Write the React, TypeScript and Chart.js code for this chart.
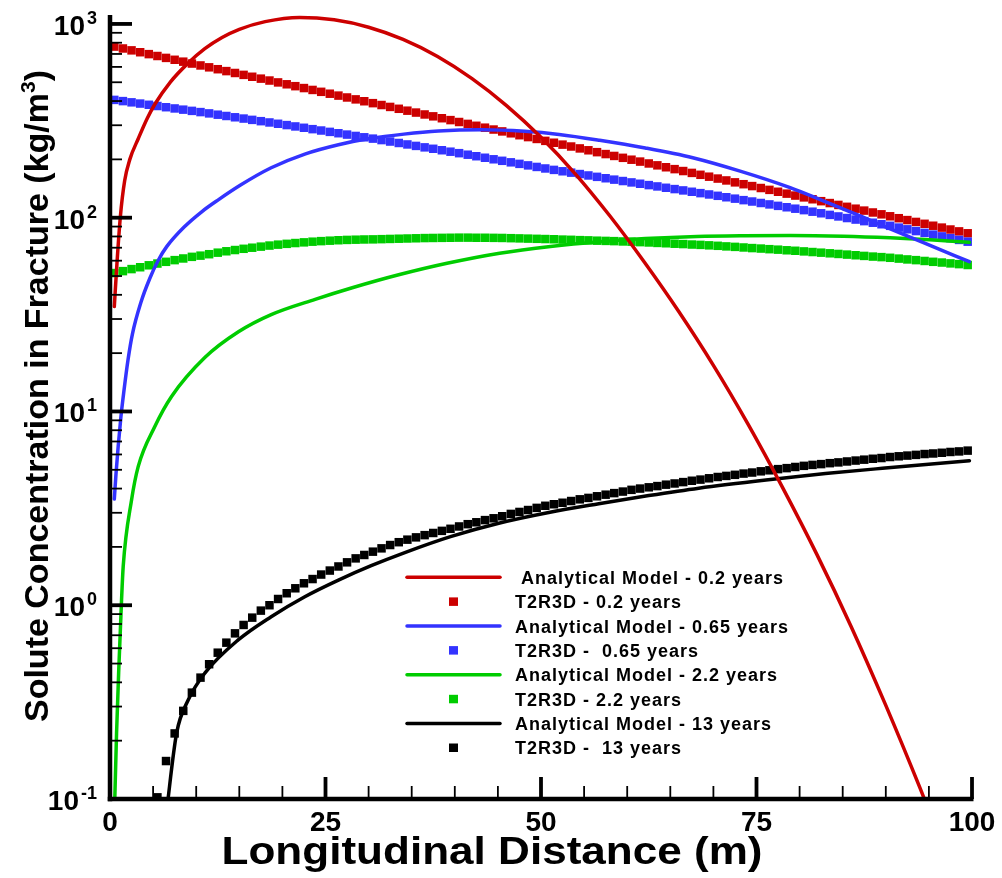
import React, { useEffect, useRef } from 'react';
import { Chart, registerables } from 'chart.js';

Chart.register(...registerables);

const RED = '#cc0000';
const BLUE = '#3333ff';
const GREEN = '#00cc00';
const BLACK = '#000000';
const FONT = '"Liberation Sans", Arial, Helvetica, sans-serif';

// Centres of the 1 m T2R3D grid blocks along the fracture (m)
const blockX: number[] = Array.from({ length: 100 }, (_, k) => k + 0.5);

// T2R3D results (kg/m3), one value per grid block
const t2r3d02: number[] = [
  764, 747, 730.5, 714.4, 698.5, 683.1, 667.9, 653.1, 638.7, 624.5,
  610.6, 597.1, 583.9, 570.9, 558.3, 545.9, 533.8, 522.0, 510.4, 499.1,
  488.1, 477.3, 466.7, 456.4, 446.3, 436.4, 426.7, 417.3, 408.0, 399.0,
  390.1, 381.5, 373.0, 364.8, 356.7, 348.8, 341.0, 333.5, 326.1, 318.9,
  311.8, 304.9, 298.1, 291.5, 285.1, 278.8, 272.6, 266.5, 260.6, 254.9,
  249.2, 243.7, 238.3, 233.0, 227.8, 222.8, 217.9, 213.0, 208.3, 203.7,
  199.2, 194.8, 190.5, 186.3, 182.1, 178.1, 174.1, 170.3, 166.5, 162.8,
  159.2, 155.7, 152.2, 148.9, 145.6, 142.3, 139.2, 136.1, 133.1, 130.1,
  127.3, 124.5, 121.7, 119.0, 116.4, 113.8, 111.3, 108.8, 106.4, 104.1,
  101.7, 99.4, 97.2, 95.1, 93.0, 90.9, 88.9, 86.9, 85.0, 83.1,
];

const t2r3d065: number[] = [
  405.5, 399.7, 393.9, 388.2, 382.6, 377.1, 371.7, 366.3, 361.1, 355.9,
  350.8, 345.4, 340.1, 334.9, 329.8, 324.8, 319.8, 314.9, 310.1, 305.3,
  300.6, 295.8, 291.1, 286.4, 281.8, 277.3, 272.9, 268.5, 264.2, 260.0,
  255.9, 251.5, 247.2, 243.0, 238.8, 234.7, 230.7, 226.8, 222.9, 219.1,
  215.3, 211.4, 207.6, 203.9, 200.2, 196.6, 193.1, 189.6, 186.2, 182.8,
  179.5, 176.5, 173.6, 170.8, 168.0, 165.2, 162.5, 159.8, 157.2, 154.6,
  152.1, 149.7, 147.3, 145.0, 142.7, 140.5, 138.3, 136.1, 133.9, 131.8,
  129.7, 127.5, 125.4, 123.2, 121.2, 119.1, 117.1, 115.1, 113.2, 111.3,
  109.4, 107.4, 105.4, 103.4, 101.5, 99.6, 97.8, 96.0, 94.2, 92.5,
  90.8, 88.9, 87.1, 85.3, 83.5, 81.8, 80.1, 78.4, 76.8, 75.2,
];

const t2r3d22: number[] = [
  51.8, 53.0, 54.3, 55.5, 56.8, 58.0, 59.2, 60.4, 61.6, 62.8,
  63.7, 64.8, 66.0, 67.1, 68.1, 69.1, 70.0, 70.9, 71.8, 72.6,
  73.3, 74.0, 74.6, 75.2, 75.7, 76.1, 76.5, 76.8, 77.0, 77.2,
  77.3, 77.5, 77.7, 77.9, 78.1, 78.3, 78.5, 78.6, 78.7, 78.8,
  78.9, 78.9, 78.8, 78.8, 78.7, 78.6, 78.4, 78.2, 78.0, 77.8,
  77.6, 77.4, 77.1, 76.9, 76.6, 76.4, 76.1, 75.9, 75.7, 75.4,
  75.2, 74.8, 74.5, 74.1, 73.8, 73.4, 73.1, 72.7, 72.4, 72.0,
  71.6, 71.1, 70.7, 70.2, 69.7, 69.3, 68.8, 68.4, 67.9, 67.5,
  67.0, 66.5, 66.0, 65.5, 65.0, 64.5, 64.0, 63.5, 63.0, 62.6,
  62.1, 61.5, 60.9, 60.4, 59.8, 59.2, 58.7, 58.1, 57.6, 57.0,
];

const t2r3d13: (number | null)[] = [
  null, null, null, null, null, 0.102, 0.157, 0.218, 0.285, 0.354,
  0.423, 0.496, 0.569, 0.641, 0.716, 0.791, 0.863, 0.938, 1.0, 1.077,
  1.153, 1.223, 1.298, 1.365, 1.44, 1.51, 1.585, 1.665, 1.745, 1.817,
  1.89, 1.966, 2.045, 2.115, 2.18, 2.24, 2.3, 2.36, 2.42, 2.48,
  2.55, 2.62, 2.68, 2.75, 2.81, 2.88, 2.96, 3.03, 3.1, 3.18,
  3.26, 3.32, 3.38, 3.45, 3.52, 3.58, 3.65, 3.72, 3.79, 3.86,
  3.94, 4.0, 4.06, 4.12, 4.19, 4.25, 4.32, 4.39, 4.45, 4.52,
  4.59, 4.65, 4.71, 4.78, 4.84, 4.91, 4.97, 5.04, 5.1, 5.17,
  5.24, 5.3, 5.35, 5.41, 5.46, 5.52, 5.58, 5.64, 5.7, 5.75,
  5.82, 5.87, 5.92, 5.97, 6.03, 6.07, 6.12, 6.18, 6.22, 6.28,
];

// Analytical model curves: distance (m) and concentration (kg/m3)
const model02X = [0.5, 0.8, 1.2, 1.7, 2.3, 3.3, 4.3, 5.2, 7, 9, 11, 13, 15, 18, 22, 26, 30, 34, 38, 42, 46, 50, 54, 58, 62, 66, 70, 74, 78, 82, 86, 90, 94, 97];
const model02Y = [34.8, 57.5, 101, 155, 200, 257, 324, 385, 501, 624, 745, 851, 938, 1028, 1081, 1050, 962, 832, 679, 522, 379, 260, 168, 102, 58.9, 32.7, 17.3, 8.63, 4.07, 1.83, 0.773, 0.304, 0.113, 0.0518];

const model065X = [0.5, 0.7, 0.95, 1.26, 1.6, 2.1, 2.6, 3.6, 4.6, 5.6, 6.6, 8.6, 10.6, 12.6, 15.1, 18.7, 22.6, 26.5, 30.1, 34.1, 38.1, 43.1, 48.1, 52.1, 56.8, 62.1, 67.6, 73.1, 78.9, 82.6, 86.6, 90.1, 94.3, 99.7];
const model065Y = [3.53, 4.79, 6.61, 9.33, 12.6, 18.6, 25.1, 36.7, 48.4, 60.3, 71.1, 89.5, 107, 124, 147, 181, 213, 238, 256, 270, 280, 284, 279, 269, 251, 229, 204, 174, 143, 123, 104, 89.1, 74.5, 59.3];

const model22X = [0.5, 0.76, 1.03, 1.34, 1.53, 2.5, 3.27, 5.2, 7.14, 11.0, 14.9, 18.7, 23.8, 28.1, 33.6, 39.1, 45.2, 51.1, 56.8, 62.1, 68.1, 73.6, 78.9, 85.1, 90.5, 95.1, 99.7];
const model22Y = [0.08, 0.218, 0.482, 1.064, 1.581, 3.49, 5.19, 8.36, 11.94, 18.97, 25.76, 31.6, 37.9, 43.5, 50.9, 58.2, 65.6, 71.1, 75.2, 78.0, 80.0, 80.7, 80.9, 80.2, 78.7, 76.9, 74.6];

const model13X = [6.5, 7.72, 9.07, 11.0, 14.87, 18.7, 22.6, 26.5, 30.3, 34.2, 39.5, 45.1, 50.9, 56.7, 62.5, 68.3, 76.1, 83.0, 89.6, 99.7];
const model13Y = [0.082, 0.218, 0.324, 0.446, 0.662, 0.873, 1.107, 1.349, 1.6, 1.87, 2.26, 2.65, 3.01, 3.34, 3.68, 4.02, 4.43, 4.78, 5.09, 5.57];

// Axis ticks
const xMajorTicks = [0, 25, 50, 75, 100];
const xMinorTicks = [5, 10, 15, 20, 30, 35, 40, 45, 55, 60, 65, 70, 80, 85, 90, 95];
const yDecadeExponents = [-1, 0, 1, 2, 3];
const yMinorMantissas = [2, 3, 4, 5, 6, 7, 8, 9];

const X_TITLE = 'Longitudinal Distance (m)';
const Y_TITLE = 'Solute Concentration in Fracture (kg/m';
const Y_TITLE_SUP = '3';
const Y_TITLE_END = ')';

const pts = (xs: number[], ys: (number | null)[]) => xs.map((x, i) => ({ x, y: ys[i] }));

const lineSet = (label: string, color: string, xs: number[], ys: number[]) => ({
  label,
  data: pts(xs, ys),
  showLine: true,
  borderColor: color,
  backgroundColor: color,
  borderWidth: 3.5,
  borderCapStyle: 'round',
  borderJoinStyle: 'round',
  pointRadius: 0,
  cubicInterpolationMode: 'monotone',
  order: 0,
  clip: 0,
});

const markerSet = (label: string, color: string, ys: (number | null)[], order: number) => ({
  label,
  data: pts(blockX, ys),
  showLine: false,
  pointStyle: 'rect',
  pointRadius: 6,
  pointBackgroundColor: color,
  pointBorderWidth: 0,
  order,
  clip: 0,
});

const frameAndLegend = {
  id: 'frameAndLegend',
  afterDraw(chart: any) {
    const ctx: CanvasRenderingContext2D = chart.ctx;
    const xs = chart.scales.x;
    const ys = chart.scales.y;
    const x0 = xs.getPixelForValue(0);
    const x1 = xs.getPixelForValue(100);
    const yb = ys.getPixelForValue(0.1);
    const yt = chart.chartArea.top;
    const seg = (ax: number, ay: number, bx: number, by: number) => {
      ctx.beginPath();
      ctx.moveTo(ax, ay);
      ctx.lineTo(bx, by);
      ctx.stroke();
    };

    ctx.save();
    ctx.strokeStyle = '#000';
    ctx.fillStyle = '#000';
    ctx.lineCap = 'butt';

    // minor ticks, pointing into the plot
    ctx.lineWidth = 1.8;
    for (const e of yDecadeExponents.slice(0, -1)) {
      for (const m of yMinorMantissas) {
        const y = ys.getPixelForValue(m * Math.pow(10, e));
        seg(x0, y, x0 + 12, y);
      }
    }
    for (const v of xMinorTicks) {
      const x = xs.getPixelForValue(v);
      seg(x, yb, x, yb - 13);
    }

    // major ticks
    ctx.lineWidth = 3.8;
    for (const e of yDecadeExponents) {
      const y = ys.getPixelForValue(Math.pow(10, e));
      seg(x0, y, x0 + 22, y);
    }
    for (const v of xMajorTicks) {
      const x = xs.getPixelForValue(v);
      seg(x, yb, x, yb - 22);
    }

    // axis lines
    ctx.lineWidth = 4.5;
    seg(x0, yt, x0, yb + 2.25);
    seg(x0 - 2.25, yb, x1 + 1.5, yb);

    // x tick labels
    ctx.font = `bold 28px ${FONT}`;
    ctx.textAlign = 'center';
    ctx.textBaseline = 'alphabetic';
    for (const v of xMajorTicks) {
      ctx.fillText(String(v), xs.getPixelForValue(v), 831);
    }

    // y tick labels: 10 with a raised exponent
    ctx.textAlign = 'right';
    for (const e of yDecadeExponents) {
      const y = ys.getPixelForValue(Math.pow(10, e));
      const sup = String(e);
      ctx.font = `bold 18px ${FONT}`;
      const sw = ctx.measureText(sup).width;
      ctx.fillText(sup, 97, y);
      ctx.font = `bold 28px ${FONT}`;
      ctx.fillText('10', 97 - sw - 2, y + 11);
    }

    // x axis title, set in a slightly wide face
    ctx.save();
    ctx.translate(492, 864);
    ctx.scale(1.13, 1);
    ctx.font = `bold 39px ${FONT}`;
    ctx.textAlign = 'center';
    ctx.fillText(X_TITLE, 0, 0);
    ctx.restore();

    // y axis title (rotated)
    ctx.save();
    ctx.translate(48, 396);
    ctx.rotate(-Math.PI / 2);
    ctx.textAlign = 'left';
    ctx.font = `bold 34px ${FONT}`;
    const w1 = ctx.measureText(Y_TITLE).width;
    const w3 = ctx.measureText(Y_TITLE_END).width;
    ctx.font = `bold 21px ${FONT}`;
    const w2 = ctx.measureText(Y_TITLE_SUP).width;
    let cx = -(w1 + w2 + w3) / 2;
    ctx.font = `bold 34px ${FONT}`;
    ctx.fillText(Y_TITLE, cx, 0);
    cx += w1;
    ctx.font = `bold 21px ${FONT}`;
    ctx.fillText(Y_TITLE_SUP, cx, -13);
    cx += w2;
    ctx.font = `bold 34px ${FONT}`;
    ctx.fillText(Y_TITLE_END, cx, 0);
    ctx.restore();

    // legend
    chart.data.datasets.forEach((ds: any, i: number) => {
      const y = 577.3 + i * 24.35;
      if (ds.showLine) {
        ctx.strokeStyle = ds.borderColor;
        ctx.lineWidth = 3.5;
        ctx.lineCap = 'round';
        seg(407, y, 500, y);
      } else {
        ctx.fillStyle = ds.pointBackgroundColor;
        ctx.fillRect(449, y - 4.25, 9, 8.5);
      }
      ctx.fillStyle = '#000';
      ctx.font = `bold 18px ${FONT}`;
      (ctx as any).letterSpacing = '1px';
      ctx.textAlign = 'left';
      ctx.fillText(ds.label, 515, y + 6.5);
      (ctx as any).letterSpacing = '0px';
    });

    ctx.restore();
  },
};

export default function App() {
  const canvasRef = useRef<HTMLCanvasElement>(null);

  useEffect(() => {
    const canvas = canvasRef.current;
    if (!canvas) return;
    const chart = new Chart(canvas, {
      type: 'scatter',
      data: {
        datasets: [
          lineSet(' Analytical Model - 0.2 years', RED, model02X, model02Y),
          markerSet('T2R3D - 0.2 years', RED, t2r3d02, 4),
          lineSet('Analytical Model - 0.65 years', BLUE, model065X, model065Y),
          markerSet('T2R3D -  0.65 years', BLUE, t2r3d065, 3),
          lineSet('Analytical Model - 2.2 years', GREEN, model22X, model22Y),
          markerSet('T2R3D - 2.2 years', GREEN, t2r3d22, 2),
          lineSet('Analytical Model - 13 years', BLACK, model13X, model13Y),
          markerSet('T2R3D -  13 years', BLACK, t2r3d13, 1),
        ] as any,
      },
      options: {
        animation: false,
        responsive: false,
        maintainAspectRatio: false,
        events: [],
        layout: { padding: { left: 110, right: 30, top: 15, bottom: 79 } },
        scales: {
          x: { type: 'linear', min: 0, max: 100, display: false },
          y: { type: 'logarithmic', min: 0.1, max: 1112, display: false },
        },
        plugins: {
          legend: { display: false },
          tooltip: { enabled: false },
        },
      },
      plugins: [frameAndLegend],
    });
    return () => chart.destroy();
  }, []);

  return (
    <div style={{ position: 'fixed', left: 0, top: 0, width: 1002, height: 878, background: '#ffffff' }}>
      <canvas ref={canvasRef} width={1002} height={878} style={{ display: 'block', width: 1002, height: 878 }} />
    </div>
  );
}
